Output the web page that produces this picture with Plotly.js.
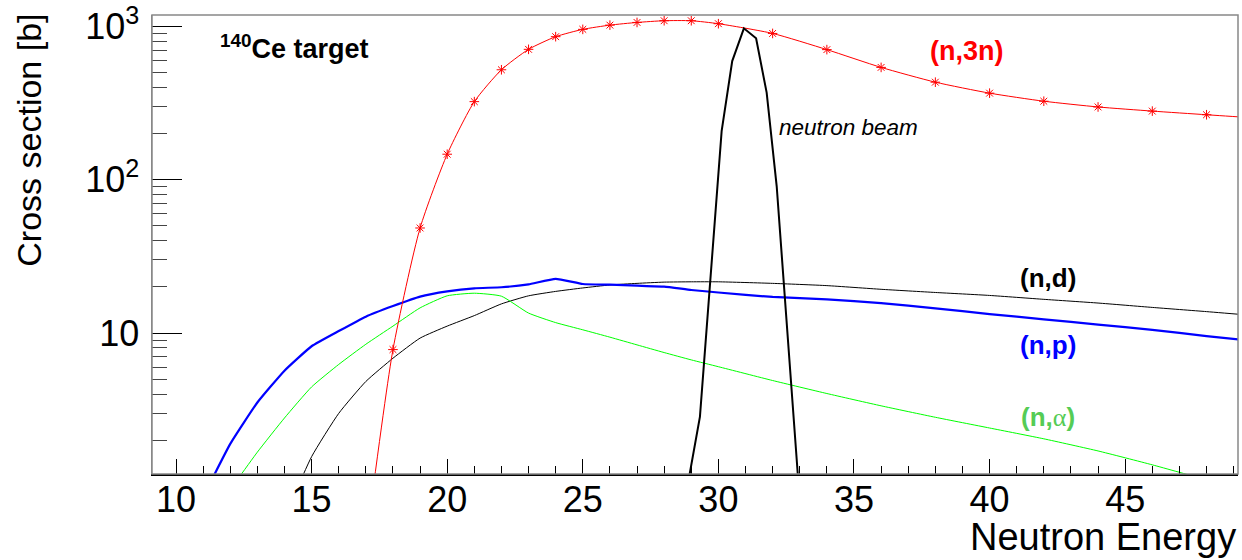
<!DOCTYPE html>
<html>
<head>
<meta charset="utf-8">
<script src="https://cdn.plot.ly/plotly-3.0.1.min.js"></script>
<style>html,body{margin:0;padding:0;background:#fff;}#chart{width:1242px;height:560px;}</style>
</head>
<body>
<div id="chart"></div>
<script>
// (n,3n) cross section [b]
const n3nEnergy = [17,18,19,20,21,22,23,24,25,26,27,28,29,30,32,34,36,38,40,42,44,46,48,50];
const n3nXs     = [0.42,7.8,48.5,147,324,523,711,860,960,1023,1065,1093,1093,1045,903,708,542,434,368,326,299,281,266,252];
// (n,p)
const npEnergy = [11,12,13,14,15,16,17,18,19,20,21,22,23,24,25,26,27,28,29,30,32,34,36,38,40,42,44,46,48,50];
const npXs     = [0.85,1.89,3.52,5.68,8.2,10.3,12.8,15.0,17.3,18.7,19.6,19.9,20.8,22.6,20.9,20.7,20.4,20.1,19.1,18.4,17.2,16.6,15.7,14.5,13.3,12.3,11.35,10.5,9.55,8.8];
// (n,d)
const ndEnergy = [14,15,16,17,18,19,20,21,22,23,24,25,26,27,28,29,30,32,34,36,38,40,42,44,46,48,50];
const ndXs     = [0.62,1.56,2.99,4.83,6.85,9.27,11.1,13.0,15.5,17.5,18.7,19.7,20.6,21.1,21.5,21.6,21.6,21.1,20.4,19.3,18.4,17.6,16.6,15.7,14.7,13.8,12.9];
// (n,alpha)
const naEnergy = [12,13,14,15,16,17,18,19,20,21,22,23,24,25,26,27,28,29,30,32,34,36,38,40,42,44,46,48,50];
const naXs     = [0.95,1.67,2.79,4.45,6.24,8.45,11.1,14.6,17.5,18.2,17.4,13.5,11.7,10.5,9.4,8.37,7.46,6.68,6.03,4.9,4.03,3.35,2.82,2.4,2.04,1.7,1.38,1.10,0.87];
// neutron beam profile (arbitrary units)
const beamEnergy = [28.86,29.32,30.12,30.51,30.94,31.39,31.78,32.15,33.0];
const beamValue  = [1.0,2.85,208,596,975,840,371,90.8,0.8];

const yTickVals = [10,100,1000];
const yTickText = ['10','10<sup>2</sup>','10<sup>3</sup>'];

const FONT = 'Liberation Sans, Arial, Helvetica, sans-serif';

const yMinor = [];
[1,10,100,1000].forEach(d => { for (let k = 2; k <= 9; k++) yMinor.push(d*k); });

const traces = [
  {x: ndEnergy, y: ndXs, mode: 'lines', line: {color: '#000000', width: 1, shape: 'spline', smoothing: 0.5}, name: '(n,d)'},
  {x: naEnergy, y: naXs, mode: 'lines', line: {color: '#00ff00', width: 1, shape: 'spline', smoothing: 0.5}, name: '(n,α)'},
  {x: npEnergy, y: npXs, mode: 'lines', line: {color: '#0000ff', width: 2.2, shape: 'spline', smoothing: 0.4}, name: '(n,p)'},
  {x: n3nEnergy, y: n3nXs, mode: 'lines+markers', line: {color: '#ff0000', width: 1, shape: 'spline', smoothing: 0.6},
   marker: {symbol: 'asterisk-open', size: 8, color: '#ff0000', line: {color: '#ff0000', width: 1}}, name: '(n,3n)'},
  {x: beamEnergy, y: beamValue, mode: 'lines', line: {color: '#000000', width: 2}, name: 'neutron beam'}
];

const layout = {
  width: 1242, height: 560,
  margin: {l: 152, r: 4, t: 15, b: 86},
  paper_bgcolor: '#ffffff', plot_bgcolor: '#ffffff',
  showlegend: false,
  font: {family: FONT, color: '#000'},
  xaxis: {
    range: [9.115, 49.16], tickmode: 'linear', tick0: 0, dtick: 5,
    ticks: 'inside', ticklen: 15, tickwidth: 1, tickcolor: '#000',
    showgrid: false, zeroline: false, showline: true, linecolor: '#000', linewidth: 1.5,
    tickfont: {family: FONT, size: 36, color: '#000'}, ticklabelstandoff: -7,
    minor: {ticks: 'inside', ticklen: 8, dtick: 1, tick0: 0, tickcolor: '#000', tickwidth: 1, showgrid: false}
  },
  yaxis: {
    type: 'log', range: [0.08, 3.076], tickmode: 'array', tickvals: yTickVals, ticktext: yTickText,
    ticks: 'inside', ticklen: 30, tickwidth: 1, tickcolor: '#000',
    showgrid: false, zeroline: false, showline: true, linecolor: '#888', linewidth: 1.5,
    tickfont: {family: FONT, size: 36, color: '#000'}, ticklabelstandoff: 4,
    minor: {tickmode: 'array', tickvals: yMinor, ticks: 'inside', ticklen: 15, tickcolor: '#444', tickwidth: 1, showgrid: false}
  },
  shapes: [
    {type: 'rect', xref: 'paper', yref: 'paper', x0: 0, x1: 1, y0: 0, y1: 1, line: {color: '#888', width: 1.5}, layer: 'above'}
  ],
  annotations: [
    {xref: 'x', yref: 'y', x: 11.55, y: 2.865, xanchor: 'left', yanchor: 'middle', showarrow: false,
     text: '<b><sup>140</sup>Ce target</b>', font: {family: FONT, size: 27, color: '#000'}},
    {xref: 'x', yref: 'y', x: 39.17, y: 2.839, xanchor: 'center', yanchor: 'middle', showarrow: false,
     text: '<b>(n,3n)</b>', font: {family: FONT, size: 27, color: '#ff0000'}},
    {xref: 'x', yref: 'y', x: 32.16, y: 2.341, xanchor: 'left', yanchor: 'middle', showarrow: false,
     text: '<i>neutron beam</i>', font: {family: FONT, size: 22.5, color: '#000'}},
    {xref: 'x', yref: 'y', x: 42.14, y: 1.361, xanchor: 'center', yanchor: 'middle', showarrow: false,
     text: '<b>(n,d)</b>', font: {family: FONT, size: 26, color: '#000'}},
    {xref: 'x', yref: 'y', x: 42.14, y: 0.924, xanchor: 'center', yanchor: 'middle', showarrow: false,
     text: '<b>(n,p)</b>', font: {family: FONT, size: 26, color: '#0000ff'}},
    {xref: 'x', yref: 'y', x: 42.14, y: 0.453, xanchor: 'center', yanchor: 'middle', showarrow: false,
     text: '<b>(n,</b><span style="font-family:Liberation Serif, serif">α</span><b>)</b>', font: {family: FONT, size: 26, color: '#55cc55'}},
    {xref: 'paper', yref: 'paper', x: 1, y: -0.137, xanchor: 'right', yanchor: 'middle', showarrow: false,
     text: 'Neutron Energy', font: {family: FONT, size: 38, color: '#000'}},
    {xref: 'paper', yref: 'paper', x: -0.114, y: 1, yshift: 3, xanchor: 'center', yanchor: 'top', showarrow: false, textangle: -90,
     text: 'Cross section [b]', font: {family: FONT, size: 34, color: '#000'}}
  ]
};

Plotly.newPlot('chart', traces, layout, {staticPlot: true, displayModeBar: false});
</script>
</body>
</html>
